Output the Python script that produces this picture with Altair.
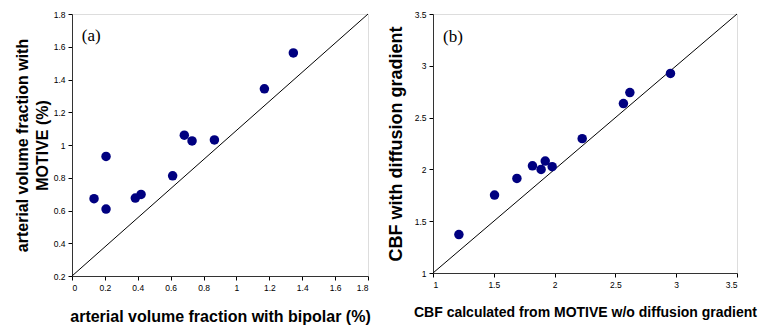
import altair as alt
import pandas as pd

# Panel (a) data
a_x = [0.134, 0.207, 0.207, 0.385, 0.42, 0.612, 0.683, 0.73, 0.866, 1.17, 1.346]
a_y = [0.672, 0.930, 0.609, 0.676, 0.698, 0.812, 1.06, 1.025, 1.031, 1.343, 1.562]
a_ticks_x = [0, 0.2, 0.4, 0.6, 0.8, 1, 1.2, 1.4, 1.6, 1.8]
a_ticks_y = [0.2, 0.4, 0.6, 0.8, 1, 1.2, 1.4, 1.6, 1.8]
a_diag_x = [0, 1.8]
a_diag_y = [0.2, 1.8]

# Panel (b) data
b_x = [1.213, 1.506, 1.69, 1.818, 1.889, 1.923, 1.98, 2.227, 2.566, 2.619, 2.953]
b_y = [1.371, 1.752, 1.913, 2.035, 2.0, 2.08, 2.026, 2.297, 2.635, 2.742, 2.926]
b_ticks = [1, 1.5, 2, 2.5, 3, 3.5]
b_diag = [1, 3.5]

NAVY = "#000080"
FONT = "Liberation Sans"


def axis(title, values, fs, pad, lh=None):
    kw = dict(
        title=title, values=values, format="~g", labelOverlap=False,
        labelFont=FONT, labelFontSize=8.5, labelColor="black", labelPadding=3,
        tickSize=4, tickColor="black", domainColor="#333333",
        grid=False, titleFont=FONT, titleFontSize=fs, titleFontWeight="bold",
        titleColor="black", titlePadding=pad,
    )
    if lh is not None:
        kw["titleLineHeight"] = lh
    return alt.Axis(**kw)


def panel(xs, ys, dx, dy, xdom, ydom, xt, yt, xtitle, ytitle, xfs, yfs, label, lx, ly, w, h, ylh=None, xpad=17, ypad=9):
    pts = pd.DataFrame({"x": xs, "y": ys})
    diag = pd.DataFrame({"x": dx, "y": dy})
    lab = pd.DataFrame({"x": [lx], "y": [ly], "t": [label]})
    xs_ = alt.Scale(domain=xdom, nice=False, zero=False)
    ys_ = alt.Scale(domain=ydom, nice=False, zero=False)
    xa = axis(xtitle, xt, xfs, xpad)
    ya = axis(ytitle, yt, yfs, ypad, ylh)
    line = alt.Chart(diag).mark_line(color="black", strokeWidth=1).encode(
        x=alt.X("x:Q", scale=xs_, axis=xa),
        y=alt.Y("y:Q", scale=ys_, axis=ya),
    )
    dots = alt.Chart(pts).mark_point(filled=True, shape="circle", size=90, color=NAVY, opacity=1).encode(
        x=alt.X("x:Q", scale=xs_, axis=xa), y=alt.Y("y:Q", scale=ys_, axis=ya)
    )
    txt = alt.Chart(lab).mark_text(font="Liberation Serif", fontSize=17, align="left", baseline="alphabetic", color="black").encode(
        x=alt.X("x:Q", scale=xs_, axis=xa), y=alt.Y("y:Q", scale=ys_, axis=ya), text="t:N"
    )
    return alt.layer(line, dots, txt).properties(width=w, height=h)


pa = panel(a_x, a_y, a_diag_x, a_diag_y, [0, 1.8], [0.2, 1.8], a_ticks_x, a_ticks_y,
           "arterial volume fraction with bipolar (%)",
           ["arterial volume fraction with", "MOTIVE (%)"], 16, 16,
           "(a)", 0.06, 1.635, 296, 262, ylh=20, ypad=3)
pb = panel(b_x, b_y, b_diag, b_diag, [1, 3.5], [1, 3.5], b_ticks, b_ticks,
           "CBF calculated from MOTIVE w/o diffusion gradient",
           "CBF with diffusion gradient", 14, 18,
           "(b)", 1.083, 3.23, 304, 259)

chart = (
    alt.hconcat(pa, pb, spacing=15)
    .properties(padding={"left": 5, "top": 1, "right": 5, "bottom": 0})
    .configure_view(stroke="#a0a0a0", strokeWidth=1)
    .configure_axis(labelOverlap=False, labelBound=False)
    .configure(background="white")
)
chart.save("out.html", embed_options={"renderer": "svg", "actions": False})
